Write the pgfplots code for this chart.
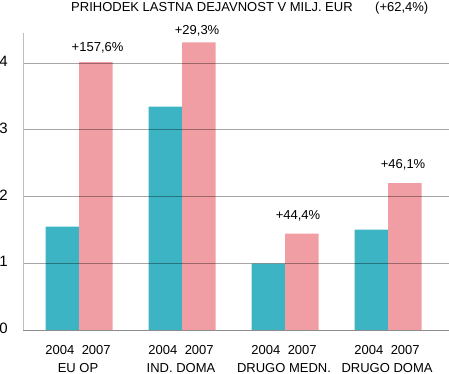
\documentclass[border=0pt]{standalone}
\usepackage{pgfplots}
\pgfplotsset{compat=1.18}
\usepackage{fontspec}
\setmainfont{Liberation Sans}
\definecolor{tealbar}{HTML}{3CB4C4}
\definecolor{pinkbar}{HTML}{F09DA3}
\begin{document}
\begin{tikzpicture}
\begin{axis}[
  at={(0,0)}, anchor=south west,
  scale only axis, width=426bp, height=297bp,
  xmin=-0.544, xmax=3.592, ymin=0, ymax=4.45,
  axis x line*=bottom, axis y line*=left,
  x axis line style={color=black!45, line width=0.6bp},
  y axis line style={color=black!25, line width=0.6bp},
  axis on top,
  ymajorgrids, grid style={black, opacity=0.35, line width=0.6bp},
  major tick length=0pt,
  ytick={0,1,2,3,4},
  /pgf/number format/assume math mode=true,
  yticklabel style={font=\fontsize{15bp}{15bp}\selectfont, anchor=east, inner sep=0pt, xshift=-15bp, yshift=1.5bp},
  xtick={0,1,2,3},
  xticklabels={{2004\hspace{7.5bp}2007\\EU OP},{2004\hspace{7.5bp}2007\\IND. DOMA},{2004\hspace{7.5bp}2007\\DRUGO MEDN.},{2004\hspace{7.5bp}2007\\DRUGO DOMA}},
  xticklabel style={align=center, font=\fontsize{13bp}{18bp}\selectfont, anchor=north, inner sep=0pt, yshift=-15bp, xshift=-1bp},
  clip=false,
]
\addplot[ybar, bar width=0.325, bar shift=-0.1625, fill=tealbar, draw=none] coordinates {(0,1.548) (1,3.345) (2,0.993) (3,1.503)};
\addplot[ybar, bar width=0.325, bar shift=0.1625, fill=pinkbar, draw=none] coordinates {(0,4.015) (1,4.31) (2,1.443) (3,2.20)};
\node[anchor=base, inner sep=0pt, font=\fontsize{13bp}{13bp}\selectfont] at (axis cs:0.18,4.17) {+157,6\%};
\node[anchor=base, inner sep=0pt, font=\fontsize{13bp}{13bp}\selectfont] at (axis cs:1.146,4.434) {+29,3\%};
\node[anchor=base, inner sep=0pt, font=\fontsize{13bp}{13bp}\selectfont] at (axis cs:2.126,1.663) {+44,4\%};
\node[anchor=base, inner sep=0pt, font=\fontsize{13bp}{13bp}\selectfont] at (axis cs:3.146,2.422) {+46,1\%};
\end{axis}
\node[anchor=base west, inner sep=0pt, font=\fontsize{13bp}{13bp}\selectfont] at (48bp,318.3bp) {PRIHODEK LASTNA DEJAVNOST V MILJ. EUR};
\node[anchor=base west, inner sep=0pt, font=\fontsize{13bp}{13bp}\selectfont] at (352bp,318.3bp) {(+62,4\%)};
\pgfresetboundingbox
\path (-23bp,-44bp) rectangle (426bp,330bp);
\end{tikzpicture}
\end{document}
